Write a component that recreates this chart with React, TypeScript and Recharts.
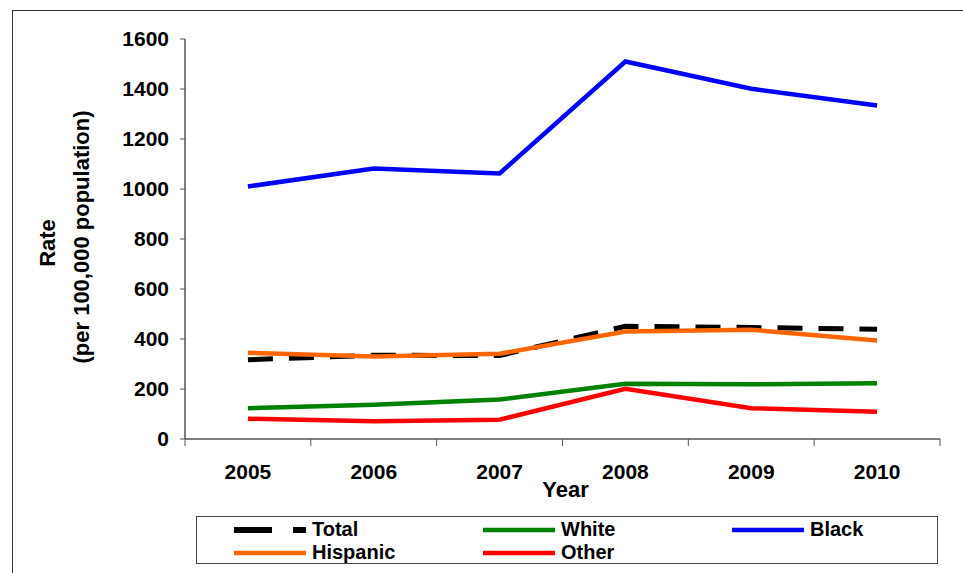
import { LineChart, Line, XAxis, YAxis, Legend, ReferenceArea, Label } from "recharts";

const years = [2005, 2006, 2007, 2008, 2009, 2010];
const total = [317, 335, 334, 451, 446, 439];
const white = [123, 137, 158, 221, 219, 223];
const black = [1010, 1082, 1062, 1510, 1401, 1334];
const hispanic = [345, 330, 341, 430, 437, 394];
const other = [81, 71, 77, 201, 123, 109];

const yTicks = [0, 200, 400, 600, 800, 1000, 1200, 1400, 1600];
const bandEdges = [2004.5, 2005.5, 2006.5, 2007.5, 2008.5, 2009.5, 2010.5];

const series = [
  { key: "total", name: "Total", color: "#000000", width: 5, dash: "25 16" },
  { key: "white", name: "White", color: "#008000", width: 4.5 },
  { key: "black", name: "Black", color: "#0000FF", width: 4.5 },
  { key: "hispanic", name: "Hispanic", color: "#FF6600", width: 4.5 },
  { key: "other", name: "Other", color: "#FF0000", width: 4.5 }
];

const data = years.map((year, i) => ({
  year,
  total: total[i],
  white: white[i],
  black: black[i],
  hispanic: hispanic[i],
  other: other[i]
}));

const font = "'Liberation Sans', Arial, sans-serif";
const tickStyle = { fontFamily: font, fontWeight: 700, fontSize: 21, fill: "#000" };
const titleStyle = { fontFamily: font, fontWeight: 700, fontSize: 22, fill: "#000" };

function LegendBox() {
  return (
    <div
      style={{
        boxSizing: "border-box",
        width: 742,
        height: 48,
        border: "1px solid #444",
        background: "#fff",
        paddingLeft: 37,
        paddingTop: 1,
        display: "grid",
        gridTemplateColumns: "249px 249px 240px",
        gridAutoRows: "23px",
        fontFamily: font,
        fontWeight: 700,
        fontSize: 20,
        lineHeight: "23px",
        color: "#000"
      }}
    >
      {series.map((s) => (
        <div key={s.key} style={{ display: "flex", alignItems: "center", height: 23 }}>
          <svg width={72} height={8} style={{ marginRight: 6 }}>
            <line
              x1={0}
              y1={4}
              x2={72}
              y2={4}
              stroke={s.color}
              strokeWidth={s.key === "total" ? 6 : 4.5}
              strokeDasharray={s.key === "total" ? "38 21" : undefined}
            />
          </svg>
          <span>{s.name}</span>
        </div>
      ))}
    </div>
  );
}

function YLabel(props: any) {
  const { viewBox } = props;
  const cy = viewBox.y + viewBox.height / 2;
  return (
    <g>
      <text
        x={47}
        y={cy + 4}
        transform={`rotate(-90, 47, ${cy + 4})`}
        textAnchor="middle"
        dominantBaseline="central"
        style={titleStyle}
      >
        Rate
      </text>
      <text
        x={81}
        y={cy - 2}
        transform={`rotate(-90, 81, ${cy - 2})`}
        textAnchor="middle"
        dominantBaseline="central"
        style={titleStyle}
      >
        (per 100,000 population)
      </text>
    </g>
  );
}

function XLabel(props: any) {
  const { viewBox } = props;
  return (
    <text x={viewBox.x + viewBox.width / 2 + 3} y={viewBox.y + 50} textAnchor="middle" style={titleStyle}>
      Year
    </text>
  );
}

export default function App() {
  return (
    <div style={{ position: "fixed", left: 0, top: 0, width: 963, height: 573, overflow: "hidden", background: "#fff" }}>
      <div
        style={{
          position: "absolute",
          left: 12,
          top: 10,
          width: 1000,
          height: 600,
          borderTop: "1px solid #333",
          borderLeft: "1px solid #333"
        }}
      />
      <div style={{ position: "absolute", left: 0, top: 0 }}>
        <LineChart width={963} height={573} data={data} margin={{ top: 39, right: 23, left: 0, bottom: 9 }}>
          <ReferenceArea
            x1={2004.5}
            x2={2010.5}
            y1={0}
            y2={1600}
            fill="none"
            stroke="#d0d0d0"
            strokeWidth={1}
            ifOverflow="visible"
          />
          <XAxis
            xAxisId="edges"
            dataKey="year"
            type="number"
            domain={[2004.5, 2010.5]}
            ticks={bandEdges}
            tickFormatter={() => ""}
            height={8}
            tickSize={7}
            axisLine={{ stroke: "#555", strokeWidth: 1.5 }}
            tickLine={{ stroke: "#555" }}
          />
          <XAxis
            xAxisId="labels"
            dataKey="year"
            type="number"
            domain={[2004.5, 2010.5]}
            ticks={years}
            height={69}
            tickSize={0}
            tickMargin={17}
            axisLine={false}
            tickLine={false}
            tick={tickStyle}
            interval={0}
          >
            <Label content={<XLabel />} />
          </XAxis>
          <YAxis
            domain={[0, 1600]}
            ticks={yTicks}
            width={185}
            tickSize={5}
            tickMargin={11}
            interval={0}
            axisLine={{ stroke: "#555", strokeWidth: 1.5 }}
            tickLine={{ stroke: "#555" }}
            tick={tickStyle}
          >
            <Label content={<YLabel />} />
          </YAxis>
          <Legend verticalAlign="bottom" content={<LegendBox />} wrapperStyle={{ left: 196, width: 742 }} />
          {series.map((s) => (
            <Line
              key={s.key}
              xAxisId="edges"
              type="linear"
              dataKey={s.key}
              name={s.name}
              stroke={s.color}
              strokeWidth={s.width}
              strokeDasharray={s.dash}
              dot={false}
              activeDot={false}
              isAnimationActive={false}
            />
          ))}
        </LineChart>
      </div>
    </div>
  );
}
